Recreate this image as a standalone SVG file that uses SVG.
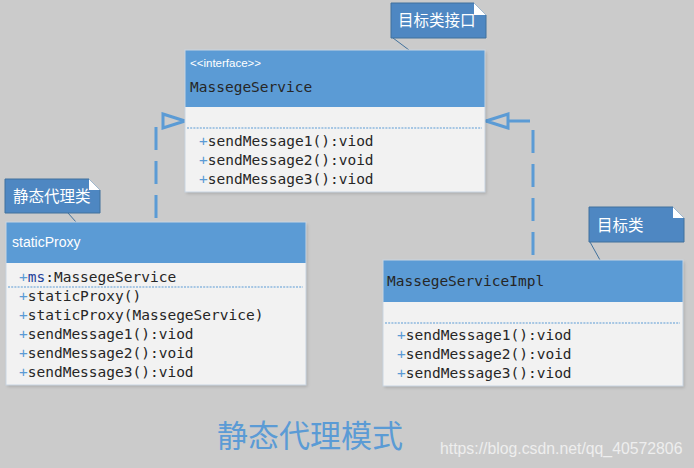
<svg xmlns="http://www.w3.org/2000/svg" width="694" height="468" viewBox="0 0 694 468">
<style>
.hdr{fill:#5b9bd5}
.body{fill:#f2f2f2}
.frame{fill:none;stroke:#c9d5e2;stroke-width:1}
.sep{stroke:#5b9bd5;stroke-width:1;stroke-dasharray:2 1.2}
.mono{font-family:"DejaVu Sans Mono","Liberation Mono",monospace;font-size:14.5px;fill:#262626}
.plus{fill:#5b9bd5}
.stereo{font-family:"Liberation Sans",Arial,sans-serif;font-size:11.5px;fill:#ffffff}
.wt{font-family:"Liberation Sans",Arial,sans-serif;font-size:14px;fill:#ffffff}
.note{fill:#4e87c2;stroke:#41719c;stroke-width:1}
.fold{fill:#ffffff}
.ntext{font-family:"Noto Sans CJK SC","Noto Sans",sans-serif;font-size:15.5px;fill:#ffffff}
.tail{stroke:#41719c;stroke-width:1;fill:none}
.conn{fill:none;stroke:#5b9bd5;stroke-width:3}
.dash{stroke-dasharray:23 11}
</style>
<defs>
<filter id="sh" x="-5%" y="-5%" width="115%" height="120%">
<feDropShadow dx="1.5" dy="2" stdDeviation="1.5" flood-color="#000" flood-opacity="0.15"/>
</filter>
<marker id="tri" markerUnits="userSpaceOnUse" viewBox="0 0 26 18" refX="24" refY="9" markerWidth="26" markerHeight="18" orient="auto">
<path d="M2,2 L24,9 L2,16 Z" fill="#cbcbcb" stroke="#5b9bd5" stroke-width="3" stroke-linejoin="miter"/>
</marker>
</defs>
<rect x="0" y="0" width="694" height="468" fill="#cbcbcb"/>

<g id="connectors">
<path class="conn dash" d="M156,127 V222"/>
<path class="conn" d="M168,121 H185" marker-end="url(#tri)"/>
<path class="conn dash" d="M533,130 V260"/>
<path class="conn" d="M530,121 H486" marker-end="url(#tri)"/>
<line class="tail" x1="393" y1="38" x2="409" y2="50"/>
<line class="tail" x1="68" y1="213" x2="76" y2="222"/>
<line class="tail" x1="590" y1="242" x2="600" y2="260"/>
</g>

<g id="MassegeService">
<rect class="body" x="185" y="50" width="300" height="142" filter="url(#sh)"/>
<rect class="hdr" x="185" y="50" width="300" height="57"/>
<rect class="frame" x="185" y="50" width="300" height="142"/>
<text class="stereo" x="190" y="67">&lt;&lt;interface&gt;&gt;</text>
<text class="mono" x="190" y="92">MassegeService</text>
<line class="sep" x1="187" y1="128" x2="482" y2="128"/>
<text class="mono" x="199" y="146"><tspan class="plus">+</tspan>sendMessage1():viod</text>
<text class="mono" x="199" y="165"><tspan class="plus">+</tspan>sendMessage2():void</text>
<text class="mono" x="199" y="184"><tspan class="plus">+</tspan>sendMessage3():viod</text>
</g>

<g id="note-interface">
<path class="note" d="M391,3 H474 L486,15 V38 H391 Z"/>
<path class="fold" d="M474,3 L486,15 H474 Z"/>
<text class="ntext" x="398" y="26">目标类接口</text>
</g>

<g id="staticProxy">
<rect class="body" x="6" y="222" width="300" height="163" filter="url(#sh)"/>
<rect class="hdr" x="6" y="222" width="300" height="41"/>
<rect class="frame" x="6" y="222" width="300" height="163"/>
<text class="wt" x="12" y="247">staticProxy</text>
<text class="mono" x="19" y="282"><tspan class="plus">+</tspan><tspan fill="#1f3f99">ms</tspan>:MassegeService</text>
<line class="sep" x1="8" y1="287" x2="303" y2="287"/>
<text class="mono" x="19" y="301"><tspan class="plus">+</tspan>staticProxy()</text>
<text class="mono" x="19" y="320"><tspan class="plus">+</tspan>staticProxy(MassegeService)</text>
<text class="mono" x="19" y="339"><tspan class="plus">+</tspan>sendMessage1():viod</text>
<text class="mono" x="19" y="358"><tspan class="plus">+</tspan>sendMessage2():void</text>
<text class="mono" x="19" y="377"><tspan class="plus">+</tspan>sendMessage3():viod</text>
</g>

<g id="note-proxy">
<path class="note" d="M5,179 H89 L100,190 V213 H5 Z"/>
<path class="fold" d="M89,179 L100,190 H89 Z"/>
<text class="ntext" x="13" y="202">静态代理类</text>
</g>

<g id="MassegeServiceImpl">
<rect class="body" x="383" y="260" width="300" height="126" filter="url(#sh)"/>
<rect class="hdr" x="383" y="260" width="300" height="42"/>
<rect class="frame" x="383" y="260" width="300" height="126"/>
<text class="mono" x="387" y="286">MassegeServiceImpl</text>
<line class="sep" x1="385" y1="323" x2="680" y2="323"/>
<text class="mono" x="397" y="340"><tspan class="plus">+</tspan>sendMessage1():viod</text>
<text class="mono" x="397" y="359"><tspan class="plus">+</tspan>sendMessage2():void</text>
<text class="mono" x="397" y="378"><tspan class="plus">+</tspan>sendMessage3():viod</text>
</g>

<g id="note-impl">
<path class="note" d="M589,207 H673 L684,218 V242 H589 Z"/>
<path class="fold" d="M673,207 L684,218 H673 Z"/>
<text class="ntext" x="597" y="231">目标类</text>
</g>

<text x="217" y="447" font-family="Noto Sans CJK SC,sans-serif" font-size="31" fill="#5b9bd5">静态代理模式</text>
<text x="440" y="454" font-family="Liberation Sans,Arial,sans-serif" font-size="15.8" fill="#eeeeee">https://blog.csdn.net/qq_40572806</text>
</svg>
